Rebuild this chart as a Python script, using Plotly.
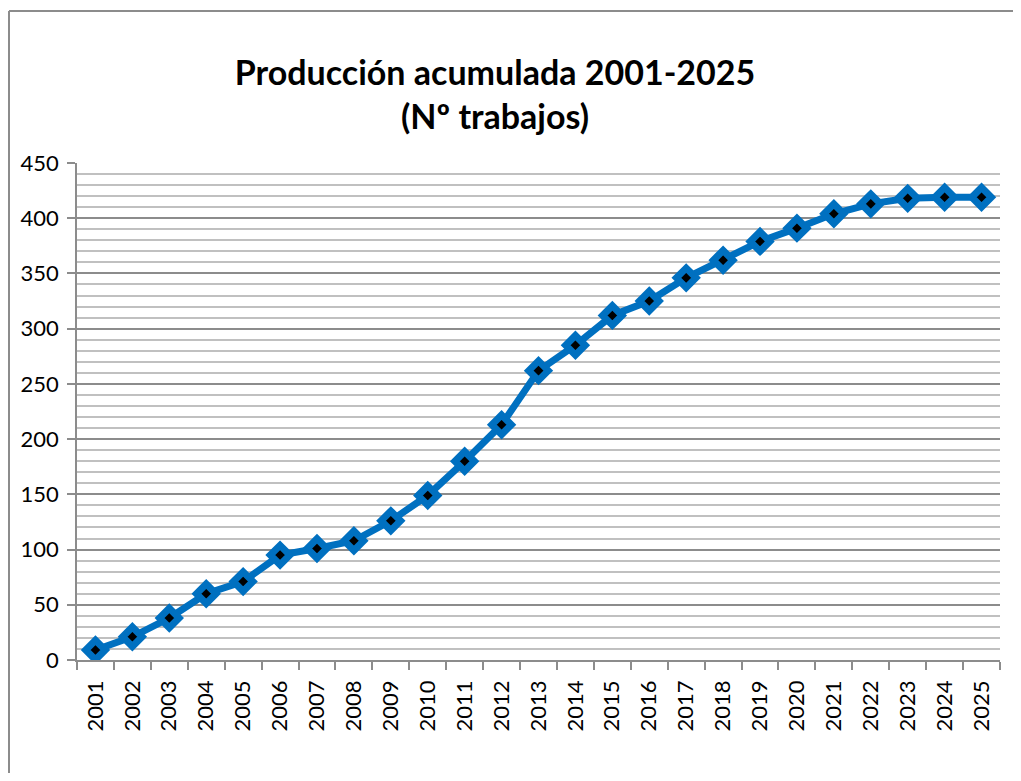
import plotly.graph_objects as go

years = [str(y) for y in range(2001, 2026)]
values = [9, 21, 38, 60, 71, 95, 101, 108, 126, 149, 180, 213, 262, 285, 312,
          325, 346, 362, 379, 391, 404, 413, 418, 419, 419]
title_text = "Producción acumulada 2001-2025<br>(Nº trabajos)"

font_family = "Lato, Carlito, Calibri, sans-serif"
blue = "#0070C0"

# The page body has an 8px margin on every side; keep the figure inside the window.
W, H = 1005, 765

fig = go.Figure()
fig.add_trace(go.Scatter(
    x=years, y=values, mode="lines+markers",
    line=dict(color=blue, width=7),
    marker=dict(symbol="diamond", size=15, color="black",
                line=dict(color=blue, width=7)),
    showlegend=False, hoverinfo="x+y",
))

fig.update_layout(
    width=W, height=H,
    margin=dict(l=69, r=13, t=155, b=113),
    paper_bgcolor="white", plot_bgcolor="white",
    title=dict(text=title_text, x=487 / W, xanchor="center", xref="container",
               y=1 - 77 / H, yanchor="middle", yref="container",
               font=dict(family=font_family, size=34, color="black", weight="bold")),
    font=dict(family=font_family, size=22, color="black"),
    shapes=[
        dict(type="line", xref="paper", yref="paper",
             x0=-68 / 923, x1=1.2, y0=1 + 152 / 497, y1=1 + 152 / 497,
             line=dict(color="#8c8c8c", width=2), layer="below"),
        dict(type="line", xref="paper", yref="paper",
             x0=-68 / 923, x1=-68 / 923, y0=-0.5, y1=1 + 152 / 497,
             line=dict(color="#8c8c8c", width=2), layer="below"),
    ],
)

fig.update_xaxes(
    type="category", range=[-0.5, 24.5], tickangle=-90,
    tickson="boundaries", ticks="outside", ticklen=8, tickcolor="#8c8c8c", tickwidth=1.5,
    showline=True, linecolor="#8c8c8c", linewidth=1.5,
    showgrid=False, ticklabelstandoff=10,
    tickfont=dict(family=font_family, size=22, color="black"),
)
fig.update_yaxes(
    range=[0, 450], tick0=0, dtick=50,
    ticks="outside", ticklen=8, tickcolor="#8c8c8c", tickwidth=1.5,
    showline=True, linecolor="#8c8c8c", linewidth=1.5,
    showgrid=True, gridcolor="#8c8c8c", gridwidth=1.5,
    minor=dict(dtick=10, showgrid=True, gridcolor="#c0c0c0", gridwidth=1.5),
    zeroline=False, ticklabelstandoff=4,
    tickfont=dict(family=font_family, size=22, color="black"),
)

fig.write_html("out.html")
